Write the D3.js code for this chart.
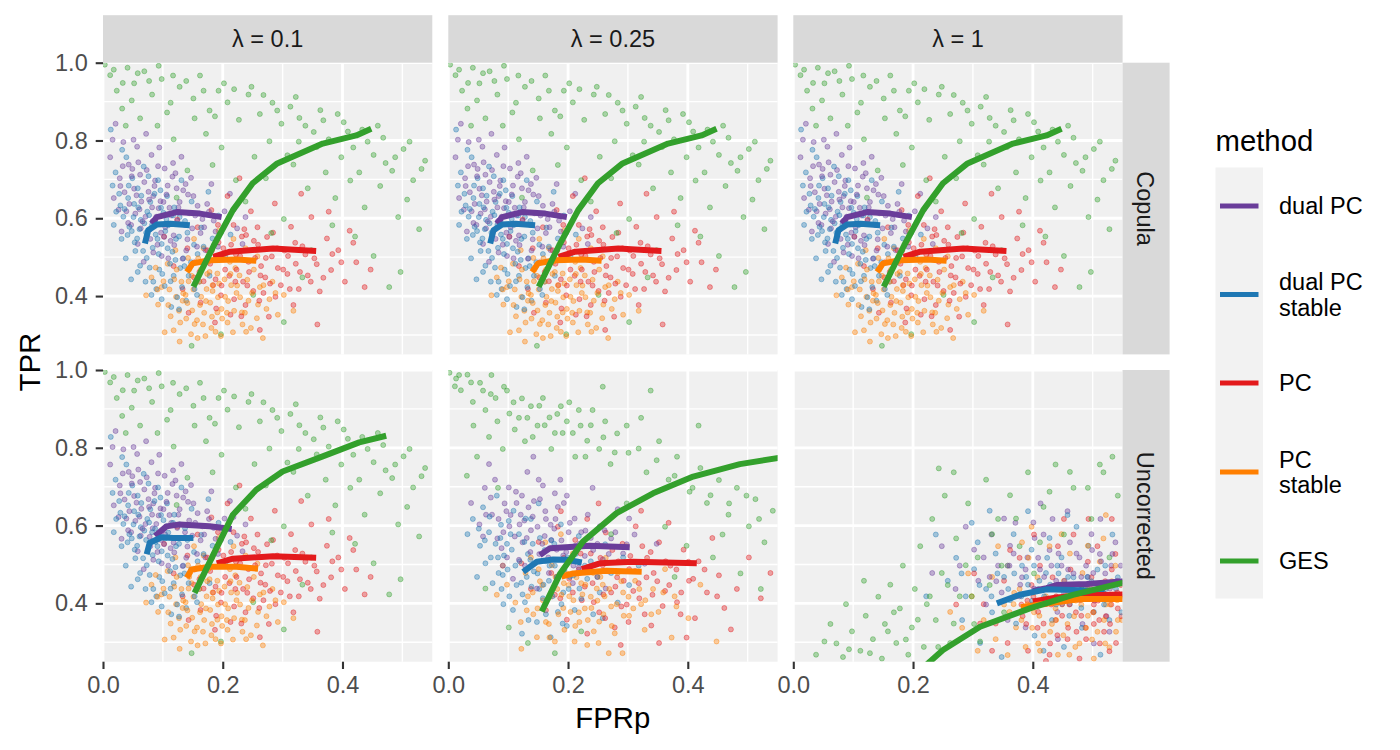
<!DOCTYPE html>
<html>
<head>
<meta charset="utf-8">
<script src="https://cdn.jsdelivr.net/npm/d3@7"></script>
<style>
body { margin: 0; background: #fff; }
text { font-family: "Liberation Sans", Arial, Helvetica, sans-serif; }
</style>
</head>
<body>
<svg id="chart"></svg>
<script>

// methods, in legend order
const methods = ["dual PC", "dual PC stable", "PC", "PC stable", "GES"]
const methodColors = ["#6a3d9a", "#1f78b4", "#e31a1c", "#ff7f00", "#33a02c"]
const colLabels = ["λ = 0.1", "λ = 0.25", "λ = 1"]
const rowLabels = ["Copula", "Uncorrected"]

const xTicks = [0, 0.2, 0.4]
const xMinor = [0.1, 0.3, 0.5]
const yTicks = [0.4, 0.6, 0.8, 1.0]
const yMinor = [0.3, 0.5, 0.7, 0.9]

// ---- point clouds (FPRp, TPR) ----
// cloud A: copula row (all lambdas) and uncorrected lambda = 0.1
const ptsA_dual = [[.021,.843],[.034,.796],[.012,.757],[.043,.738],[.057,.784],[.028,.703],[.052,.676],[.073,.724],[.084,.657],[.018,.652],
[.039,.618],[.064,.643],[.093,.626],[.108,.684],[.047,.583],[.071,.604],[.104,.577],[.126,.628],[.031,.566],[.079,.547],
[.058,.534],[.113,.542],[.137,.583],[.142,.661],[.087,.697],[.121,.716],[.154,.607],[.163,.562],[.098,.503],[.068,.488],
[.133,.496],[.174,.637],[.185,.594],[.192,.527],[.147,.704],[.203,.618],[.224,.574],[.036,.667],[.062,.712],[.083,.593],
[.101,.642],[.054,.612],[.118,.556],[.139,.517],[.091,.532],[.114,.607],[.026,.622],[.076,.668],[.166,.598],[.212,.663],
[.238,.603],[.131,.758],[.094,.782],[.171,.518],[.063,.574],[.082,.628],[.123,.677],[.181,.688],[.049,.727],[.233,.534],
[.044,.637],[.056,.659],[.061,.623],[.077,.648],[.086,.683],[.096,.644],[.106,.661],[.059,.744],[.081,.763],[.103,.728],
[.051,.802],[.072,.817],[.033,.734],[.116,.707],[.128,.642],[.144,.613],[.124,.594],[.097,.563],[.078,.571],[.066,.592],
[.042,.588],[.089,.604],[.111,.627],[.134,.672],[.151,.657],[.158,.632],[.177,.617],[.188,.566],[.169,.577],[.149,.574],
[.141,.546],[.119,.531],[.102,.552],[.084,.512],[.109,.497],[.157,.527],[.197,.563],[.218,.622],[.069,.693],[.048,.708],
[.092,.734],[.117,.742],[.138,.688],[.029,.683],[.016,.802]]
const ptsA_dualS = [[.013,.828],[.032,.776],[.021,.718],[.043,.684],[.052,.637],[.034,.604],[.063,.596],[.041,.557],[.072,.563],[.054,.516],
[.083,.524],[.062,.478],[.094,.468],[.071,.437],[.103,.426],[.124,.397],[.112,.483],[.088,.558],[.101,.614],[.079,.642],
[.058,.677],[.122,.547],[.134,.497],[.143,.452],[.152,.532],[.128,.603],[.107,.657],[.164,.576],[.172,.487],[.183,.548],
[.068,.733],[.092,.698],[.038,.497],[.018,.583],[.047,.443],[.081,.403],[.114,.372],[.139,.388],[.161,.437],[.193,.607],
[.204,.502],[.118,.452],[.098,.534],[.074,.617],[.027,.663],[.049,.703],[.087,.592],[.148,.643],[.176,.668],[.131,.698],
[.057,.548],[.078,.473],[.109,.582],[.036,.624],[.096,.672],[.141,.563],[.119,.628],[.016,.684],[.178,.452],[.213,.558],
[.029,.633],[.044,.578],[.051,.603],[.061,.572],[.069,.587],[.082,.583],[.091,.547],[.104,.567],[.053,.538],[.067,.516],
[.093,.508],[.108,.523],[.058,.462],[.084,.437],[.099,.457],[.121,.493],[.129,.472],[.113,.438],[.132,.423],[.089,.418],
[.042,.652],[.064,.658],[.077,.608],[.097,.627],[.117,.607],[.137,.593],[.147,.487],[.158,.508],[.136,.477],[.116,.514],
[.073,.498],[.048,.567],[.031,.547],[.059,.628],[.086,.663],[.106,.598],[.127,.553],[.153,.418],[.098,.392],[.127,.366],
[.157,.403],[.076,.708],[.039,.757],[.022,.617],[.168,.527]]
const ptsA_pc = [[.102,.553],[.118,.477],[.133,.418],[.141,.523],[.152,.448],[.163,.383],[.158,.577],[.172,.492],[.184,.428],[.181,.621],
[.193,.538],[.204,.468],[.197,.402],[.213,.352],[.222,.507],[.218,.583],[.234,.437],[.243,.488],[.238,.377],[.252,.542],
[.247,.618],[.263,.453],[.272,.498],[.268,.408],[.284,.563],[.277,.347],[.292,.472],[.303,.517],[.297,.428],[.314,.578],
[.322,.483],[.318,.377],[.333,.528],[.342,.453],[.353,.497],[.348,.603],[.362,.412],[.374,.548],[.381,.467],[.393,.518],
[.404,.437],[.412,.568],[.423,.487],[.437,.423],[.358,.327],[.262,.313],[.187,.332],[.143,.357],[.124,.597],[.208,.657],
[.228,.703],[.287,.638],[.331,.663],[.168,.438],[.232,.553],[.258,.577],[.308,.457],[.201,.523],[.153,.487],[.377,.617],
[.161,.462],[.174,.518],[.179,.483],[.188,.443],[.192,.583],[.199,.497],[.211,.452],[.214,.532],[.223,.468],[.219,.392],
[.229,.503],[.236,.572],[.241,.427],[.244,.462],[.254,.498],[.251,.413],[.259,.532],[.264,.477],[.271,.448],[.274,.552],
[.282,.502],[.279,.432],[.291,.523],[.288,.398],[.301,.468],[.309,.503],[.312,.418],[.321,.537],[.329,.462],[.338,.507],
[.347,.437],[.357,.482],[.368,.447],[.383,.508],[.398,.487],[.182,.517],[.198,.427],[.221,.437],[.239,.557],[.261,.388],
[.189,.368],[.231,.348],[.327,.418],[.418,.537],[.447,.468]]
const ptsA_pcS = [[.081,.448],[.092,.378],[.098,.423],[.113,.348],[.108,.483],[.122,.398],[.118,.312],[.131,.437],[.127,.362],[.142,.498],
[.138,.403],[.153,.328],[.148,.452],[.162,.377],[.158,.292],[.173,.418],[.168,.523],[.182,.347],[.178,.462],[.192,.397],
[.188,.308],[.203,.443],[.198,.367],[.212,.488],[.208,.332],[.223,.408],[.218,.547],[.232,.358],[.228,.453],[.243,.388],
[.252,.468],[.247,.318],[.262,.423],[.273,.367],[.283,.437],[.292,.352],[.302,.403],[.103,.307],[.128,.283],[.171,.297],
[.193,.568],[.238,.523],[.152,.547],[.121,.518],[.088,.473],[.143,.438],[.163,.468],[.183,.413],[.201,.497],[.221,.472],
[.111,.417],[.133,.388],[.169,.357],[.214,.428],[.258,.502],[.267,.292],[.318,.362],[.072,.402],[.157,.338],[.191,.458],
[.119,.443],[.134,.407],[.141,.382],[.144,.468],[.151,.417],[.149,.363],[.161,.437],[.164,.398],[.172,.387],[.174,.457],
[.179,.383],[.183,.428],[.191,.358],[.194,.432],[.204,.398],[.199,.342],[.209,.387],[.213,.457],[.219,.362],[.224,.427],
[.229,.397],[.233,.327],[.241,.442],[.237,.357],[.249,.408],[.259,.378],[.268,.428],[.278,.392],[.129,.332],[.147,.302],
[.181,.318],[.197,.297],[.217,.307],[.109,.377],[.101,.438],[.123,.468],[.159,.497],[.176,.488],[.139,.342],[.167,.327],
[.207,.357],[.239,.308],[.257,.343],[.091,.417],[.288,.408]]
const ptsA_ges = [[.003,.995],[.012,.968],[.023,.928],[.041,.987],[.052,.947],[.069,.978],[.082,.918],[.098,.958],[.113,.897],[.128,.938],
[.151,.908],[.162,.967],[.178,.877],[.193,.928],[.208,.898],[.227,.853],[.243,.918],[.262,.868],[.283,.897],[.298,.843],
[.313,.887],[.328,.858],[.352,.822],[.363,.878],[.377,.803],[.402,.847],[.418,.782],[.433,.828],[.452,.763],[.468,.807],
[.483,.722],[.502,.778],[.518,.698],[.538,.748],[.062,.857],[.091,.838],[.118,.803],[.172,.817],[.198,.782],[.253,.758],
[.272,.703],[.318,.738],[.342,.677],[.372,.718],[.388,.652],[.413,.697],[.437,.628],[.463,.683],[.493,.603],[.508,.648],
[.528,.572],[.383,.582],[.421,.553],[.452,.503],[.497,.462],[.348,.518],[.302,.598],[.281,.562],[.238,.643],[.222,.698],
[.183,.737],[.141,.723],[.032,.882],[.251,.403],[.197,.302],[.148,.272],[.302,.333],[.123,.653],[.478,.423],[.333,.448],
[.018,.982],[.033,.948],[.058,.973],[.077,.953],[.093,.992],[.117,.967],[.139,.953],[.168,.928],[.202,.947],[.219,.932],
[.248,.938],[.268,.917],[.291,.877],[.322,.912],[.338,.838],[.368,.852],[.392,.868],[.409,.823],[.442,.797],[.459,.838],
[.488,.757],[.512,.797],[.532,.727],[.472,.742],[.428,.718],[.398,.757],[.357,.783],[.327,.797],[.308,.762],[.278,.798],
[.048,.903],[.107,.872],[.153,.857],[.187,.862],[.038,.838]]

// cloud B: uncorrected, lambda = 0.25
const ptsB_dual = [[.038,.658],[.052,.603],[.061,.697],[.073,.628],[.082,.567],[.078,.718],[.094,.657],[.102,.598],[.098,.518],[.113,.687],
[.121,.628],[.124,.557],[.132,.738],[.128,.497],[.143,.663],[.138,.588],[.152,.527],[.163,.617],[.158,.703],[.172,.563],
[.168,.478],[.183,.648],[.177,.592],[.192,.523],[.203,.607],[.198,.677],[.212,.548],[.222,.583],[.218,.492],[.233,.628],
[.242,.537],[.253,.598],[.258,.513],[.272,.567],[.283,.642],[.292,.528],[.311,.577],[.328,.502],[.108,.463],[.148,.438],
[.089,.542],[.058,.572],[.187,.718],[.241,.697],[.142,.777],[.068,.758],[.208,.452],[.263,.438],[.127,.613],[.181,.538],
[.161,.573],[.228,.522],[.097,.637],[.302,.618],[.348,.553],
[.084,.617],[.092,.583],[.104,.627],[.111,.572],[.114,.658],[.119,.603],[.131,.568],[.134,.647],[.141,.623],[.137,.532],
[.149,.597],[.153,.668],[.157,.553],[.162,.637],[.171,.602],[.167,.518],[.179,.617],[.189,.562],[.193,.658],[.201,.583],
[.197,.532],[.211,.618],[.219,.553],[.229,.587],[.238,.568],[.249,.553],[.261,.588],[.268,.527],[.071,.672],[.063,.628],
[.123,.677],[.101,.698],[.151,.718],[.178,.683],[.209,.497],[.239,.483],[.279,.583],[.298,.552],[.091,.497],[.118,.512]]
const ptsB_dualS = [[.041,.617],[.053,.548],[.062,.503],[.068,.583],[.074,.452],[.083,.518],[.091,.473],[.088,.602],[.102,.418],[.098,.553],
[.112,.497],[.108,.383],[.122,.453],[.118,.578],[.133,.527],[.128,.403],[.143,.482],[.138,.617],[.152,.437],[.148,.352],
[.163,.508],[.158,.413],[.172,.562],[.168,.458],[.183,.378],[.178,.497],[.192,.428],[.188,.603],[.203,.468],[.198,.342],
[.213,.527],[.222,.412],[.218,.573],[.232,.463],[.242,.372],[.238,.508],[.253,.428],[.262,.552],[.272,.478],[.283,.402],
[.292,.518],[.302,.447],[.032,.578],[.058,.647],[.081,.677],[.109,.638],[.048,.468],[.123,.322],[.171,.313],[.141,.553],
[.092,.398],[.211,.383],[.258,.362],[.318,.497],[.151,.657],
[.061,.562],[.071,.518],[.079,.553],[.084,.478],[.093,.523],[.087,.568],[.099,.487],[.104,.578],[.114,.447],[.106,.538],
[.119,.508],[.124,.423],[.131,.468],[.127,.558],[.139,.443],[.137,.512],[.149,.477],[.153,.568],[.159,.448],[.161,.537],
[.169,.497],[.174,.418],[.181,.468],[.177,.553],[.189,.398],[.194,.487],[.201,.437],[.199,.518],[.209,.472],[.219,.438],
[.228,.497],[.249,.468],[.051,.592],[.069,.623],[.101,.612],[.129,.618],[.163,.372],[.134,.357],[.089,.437],[.191,.348]]
const ptsB_pc = [[.122,.503],[.138,.437],[.151,.558],[.163,.382],[.172,.478],[.178,.422],[.183,.597],[.193,.517],[.202,.463],[.198,.358],
[.212,.563],[.218,.487],[.223,.408],[.232,.617],[.241,.452],[.238,.528],[.252,.377],[.258,.498],[.263,.582],[.272,.428],
[.282,.467],[.278,.338],[.291,.553],[.302,.488],[.298,.397],[.313,.598],[.318,.452],[.332,.517],[.328,.372],[.343,.478],
[.352,.557],[.362,.432],[.371,.497],[.382,.403],[.393,.538],[.402,.458],[.412,.362],[.418,.508],[.432,.428],[.441,.568],
[.452,.472],[.461,.388],[.482,.437],[.502,.518],[.522,.413],[.398,.312],[.352,.298],[.288,.293],[.232,.322],[.322,.638],
[.251,.657],[.188,.637],[.368,.607],[.472,.333],[.538,.478],
[.181,.468],[.187,.413],[.203,.507],[.208,.428],[.214,.477],[.221,.528],[.228,.443],[.234,.493],[.243,.403],[.249,.468],
[.254,.517],[.259,.423],[.268,.482],[.274,.537],[.279,.443],[.284,.508],[.289,.392],[.293,.458],[.304,.522],[.309,.432],
[.312,.483],[.319,.413],[.324,.547],[.331,.467],[.341,.422],[.338,.532],[.349,.457],[.358,.393],[.363,.508],[.369,.447],
[.381,.487],[.389,.428],[.401,.507],[.409,.463],[.428,.487],[.262,.362],[.301,.352],[.339,.343],[.388,.372],[.449,.418]]
const ptsB_pcS = [[.098,.448],[.112,.402],[.121,.352],[.129,.478],[.133,.418],[.142,.372],[.148,.313],[.153,.457],[.158,.408],[.168,.347],
[.173,.498],[.182,.437],[.178,.302],[.192,.388],[.198,.477],[.202,.418],[.212,.342],[.208,.528],[.222,.452],[.228,.387],
[.232,.293],[.242,.478],[.238,.417],[.252,.353],[.258,.448],[.263,.517],[.272,.392],[.278,.323],[.283,.478],[.292,.428],
[.302,.368],[.298,.547],[.312,.458],[.322,.398],[.328,.332],[.342,.437],[.351,.378],[.362,.488],[.378,.418],[.401,.362],
[.138,.518],[.162,.557],[.188,.578],[.091,.497],[.122,.283],[.268,.272],[.218,.377],[.248,.438],[.193,.452],[.332,.508],
[.373,.312],[.421,.448],[.081,.422],[.448,.302],[.291,.272],
[.141,.428],[.149,.387],[.157,.447],[.163,.352],[.171,.417],[.179,.468],[.184,.372],[.189,.422],[.194,.332],[.201,.447],
[.204,.378],[.209,.408],[.214,.467],[.219,.352],[.224,.423],[.229,.448],[.233,.357],[.239,.388],[.243,.328],[.249,.407],
[.254,.468],[.259,.372],[.261,.418],[.269,.437],[.273,.342],[.281,.398],[.289,.457],[.293,.368],[.301,.417],[.309,.387],
[.319,.437],[.329,.408],[.339,.372],[.169,.312],[.211,.302],[.251,.298],[.131,.382],[.151,.488],[.359,.428],[.381,.392]]
const ptsB_ges = [[.002,.993],[.013,.978],[.021,.948],[.032,.988],[.041,.918],[.053,.967],[.062,.897],[.071,.938],[.082,.868],[.093,.957],
[.102,.888],[.111,.847],[.123,.927],[.132,.877],[.141,.828],[.152,.908],[.161,.858],[.172,.797],[.182,.887],[.191,.838],
[.202,.917],[.212,.777],[.221,.857],[.232,.818],[.241,.897],[.252,.797],[.262,.868],[.271,.758],[.282,.837],[.301,.787],
[.322,.877],[.331,.737],[.352,.817],[.368,.718],[.382,.777],[.403,.687],[.421,.748],[.432,.658],[.452,.717],[.468,.628],
[.482,.697],[.502,.598],[.513,.668],[.528,.557],[.542,.638],[.048,.777],[.083,.697],[.031,.728],[.362,.597],[.398,.548],
[.442,.518],[.488,.477],[.522,.437],[.298,.657],[.272,.578],[.101,.338],[.133,.298],[.178,.272],[.222,.328],[.062,.438],
[.338,.947],[.258,.957],[.418,.857],[.458,.577],[.378,.468],
[.011,.958],[.018,.987],[.038,.968],[.058,.947],[.072,.987],[.079,.928],[.098,.947],[.109,.917],[.118,.877],[.138,.907],
[.149,.857],[.158,.928],[.169,.878],[.178,.838],[.188,.907],[.198,.868],[.208,.838],[.218,.897],[.229,.777],[.238,.858],
[.259,.827],[.278,.788],[.298,.857],[.318,.798],[.348,.768],[.378,.728],[.408,.697],[.438,.678],[.469,.657],[.498,.677],
[.519,.617],[.091,.797],[.128,.817],[.042,.857],[.068,.828]]

// cloud C: uncorrected, lambda = 1
const ptsC_dual = [[.278,.497],[.302,.538],[.309,.458],[.331,.577],[.342,.497],[.348,.428],[.362,.548],[.371,.607],[.382,.467],[.391,.518],
[.398,.397],[.403,.568],[.412,.487],[.421,.437],[.428,.537],[.433,.617],[.441,.378],[.448,.497],[.453,.458],[.462,.557],
[.471,.418],[.478,.518],[.483,.347],[.492,.468],[.498,.578],[.503,.407],[.512,.527],[.518,.448],[.523,.367],[.531,.497],
[.538,.557],[.543,.418],[.248,.547],[.271,.437],[.322,.397],[.358,.357],[.413,.657],[.458,.637],[.388,.338],[.442,.308],
[.502,.297],[.528,.327],[.352,.618],[.288,.597],[.418,.577],[.468,.477],[.378,.418],[.513,.617],[.232,.478],[.328,.468],
[.379,.448],[.388,.487],[.402,.438],[.409,.517],[.419,.468],[.431,.497],[.439,.458],[.443,.528],[.452,.428],[.459,.487],
[.468,.447],[.473,.528],[.481,.468],[.489,.497],[.494,.418],[.501,.478],[.509,.447],[.514,.508],[.521,.477],[.529,.438],
[.533,.527],[.541,.458],[.361,.497],[.368,.528],[.339,.457],[.318,.518],[.401,.608],[.449,.398],[.499,.537],[.547,.497]]
const ptsC_dualS = [[.258,.458],[.272,.517],[.288,.418],[.302,.488],[.308,.557],[.322,.437],[.332,.377],[.338,.528],[.352,.468],[.362,.408],
[.368,.578],[.372,.348],[.382,.497],[.392,.448],[.398,.538],[.403,.317],[.412,.398],[.422,.478],[.428,.568],[.432,.357],
[.442,.437],[.448,.518],[.452,.288],[.462,.398],[.468,.467],[.473,.597],[.482,.337],[.488,.428],[.493,.548],[.502,.378],
[.508,.487],[.513,.268],[.522,.437],[.528,.357],[.533,.577],[.542,.467],[.238,.577],[.282,.357],[.312,.298],[.348,.262],
[.392,.637],[.328,.638],[.418,.278],[.458,.627],[.222,.418],[.298,.607],[.358,.497],[.441,.497],[.498,.457],[.409,.437],
[.359,.437],[.369,.477],[.381,.418],[.389,.468],[.399,.407],[.402,.497],[.411,.458],[.419,.418],[.424,.517],[.429,.448],
[.439,.397],[.443,.477],[.451,.437],[.459,.468],[.461,.368],[.469,.417],[.479,.447],[.481,.388],[.491,.468],[.499,.418],
[.509,.437],[.519,.397],[.521,.497],[.529,.418],[.539,.437],[.331,.418],[.341,.477],[.311,.447],[.281,.477],[.548,.377]]
const ptsC_pc = [[.318,.398],[.338,.348],[.352,.458],[.358,.298],[.372,.418],[.378,.517],[.383,.367],[.392,.278],[.398,.447],[.412,.497],
[.408,.337],[.422,.398],[.428,.268],[.433,.467],[.442,.547],[.438,.357],[.452,.418],[.458,.308],[.463,.487],[.472,.377],
[.468,.577],[.482,.437],[.478,.258],[.492,.507],[.488,.337],[.502,.397],[.498,.467],[.512,.297],[.508,.547],[.522,.367],
[.518,.427],[.532,.487],[.528,.277],[.542,.387],[.538,.527],[.452,.617],[.402,.577],[.362,.537],[.302,.477],[.332,.278],
[.422,.252],[.473,.327],[.493,.617],[.532,.617],[.391,.407],[.443,.447],[.502,.347],[.547,.447],[.312,.348],[.272,.397],
[.381,.397],[.389,.347],[.401,.417],[.409,.378],[.419,.437],[.418,.348],[.431,.397],[.439,.418],[.441,.318],[.449,.368],
[.448,.447],[.461,.397],[.459,.337],[.469,.428],[.481,.368],[.479,.408],[.491,.447],[.489,.308],[.501,.377],[.499,.428],
[.511,.357],[.509,.407],[.521,.457],[.519,.327],[.531,.397],[.529,.347],[.541,.428],[.539,.298],[.548,.367],[.429,.297]]
const ptsC_pcS = [[.298,.418],[.318,.357],[.332,.468],[.338,.308],[.352,.397],[.358,.497],[.372,.338],[.378,.437],[.388,.288],[.393,.517],
[.402,.377],[.408,.467],[.418,.317],[.422,.418],[.428,.547],[.442,.268],[.438,.387],[.452,.458],[.458,.347],[.462,.528],
[.472,.407],[.478,.297],[.483,.478],[.492,.368],[.498,.437],[.502,.258],[.512,.507],[.508,.327],[.522,.397],[.518,.567],
[.532,.457],[.528,.287],[.542,.357],[.538,.497],[.282,.337],[.308,.278],[.358,.267],[.292,.477],[.342,.547],[.398,.597],
[.448,.578],[.368,.398],[.432,.347],[.468,.428],[.492,.548],[.412,.278],[.548,.417],[.262,.378],[.382,.557],[.522,.627],
[.361,.378],[.369,.427],[.381,.357],[.391,.398],[.399,.337],[.401,.427],[.411,.368],[.419,.397],[.429,.327],[.431,.437],
[.439,.357],[.449,.397],[.451,.318],[.459,.427],[.469,.367],[.471,.288],[.481,.397],[.489,.337],[.491,.438],[.501,.377],
[.499,.307],[.511,.418],[.519,.357],[.521,.297],[.529,.397],[.539,.327],[.541,.408],[.549,.357],[.409,.297],[.461,.268]]
const ptsC_ges = [[.038,.268],[.072,.297],[.083,.262],[.098,.328],[.112,.278],[.121,.368],[.133,.308],[.142,.417],[.148,.258],[.153,.347],
[.162,.448],[.172,.298],[.178,.387],[.183,.497],[.192,.268],[.198,.338],[.203,.437],[.212,.547],[.218,.288],[.223,.398],
[.232,.617],[.238,.357],[.248,.478],[.253,.677],[.262,.298],[.272,.567],[.278,.418],[.292,.657],[.302,.347],[.308,.518],
[.322,.718],[.328,.447],[.342,.617],[.352,.377],[.362,.678],[.378,.547],[.392,.737],[.402,.477],[.418,.648],[.438,.757],
[.452,.577],[.468,.697],[.482,.437],[.498,.617],[.512,.757],[.528,.518],[.542,.677],[.118,.458],[.088,.398],[.062,.347],
[.052,.302],[.093,.282],[.128,.272],[.158,.328],[.168,.377],[.188,.307],[.208,.358],[.228,.418],[.242,.288],[.258,.447],
[.268,.348],[.288,.498],[.298,.418],[.312,.302],[.332,.578],[.348,.497],[.372,.618],[.412,.557],[.428,.687],[.462,.738],
[.492,.697],[.518,.737],[.533,.777],[.268,.737],[.243,.747]]

// ---- method curves ----
// copula row (same for all three lambdas)
const lnCop_dual = [[.081,.586],[.09,.603],[.123,.616],[.162,.612],[.198,.603]]
const lnCop_dualS = [[.07,.535],[.0755,.569],[.09,.584],[.112,.586],[.145,.582]]
const lnCop_pc = [[.184,.501],[.212,.514],[.284,.522],[.356,.516]]
const lnCop_pcS = [[.14,.462],[.15,.484],[.178,.492],[.223,.494],[.256,.491]]
const lnCop_ges = [[.151,.424],[.185,.53],[.217,.621],[.25,.69],[.29,.74],[.367,.792],[.423,.813],[.448,.83]]

// uncorrected, lambda = 0.1
const lnU1_dual = [[.087,.573],[.106,.598],[.128,.603],[.178,.598],[.215,.591]]
const lnU1_dualS = [[.073,.526],[.078,.556],[.098,.57],[.117,.568],[.151,.568]]
const lnU1_pc = [[.19,.503],[.217,.515],[.284,.521],[.356,.517]]
const lnU1_pcS = [[.14,.466],[.148,.487],[.178,.494],[.223,.494],[.259,.489]]
const lnU1_ges = [[.153,.427],[.217,.628],[.256,.692],[.30,.739],[.367,.778],[.428,.814],[.473,.831]]

// uncorrected, lambda = 0.25
const lnU2_dual = [[.153,.524],[.17,.542],[.236,.548],[.303,.544]]
const lnU2_dualS = [[.125,.481],[.148,.507],[.175,.513],[.198,.512],[.223,.505]]
const lnU2_pc = [[.223,.488],[.253,.503],[.309,.507],[.415,.503]]
const lnU2_pcS = [[.189,.469],[.209,.477],[.264,.484],[.323,.481]]
const lnU2_ges = [[.156,.379],[.187,.477],[.225,.559],[.281,.632],[.342,.683],[.409,.726],[.487,.758],[.56,.776]]

// uncorrected, lambda = 1
const lnU3_dual = [[.40,.432],[.423,.439],[.44,.447],[.49,.45],[.548,.456],[.58,.46]]
const lnU3_dualS = [[.34,.40],[.378,.422],[.423,.436],[.479,.434],[.52,.432]]
const lnU3_pc = [[.40,.405],[.44,.415],[.48,.42],[.55,.423],[.58,.423]]
const lnU3_pcS = [[.38,.39],[.412,.397],[.479,.411],[.548,.411],[.58,.411]]
const lnU3_ges = [[.20,.21],[.228,.25],[.25,.28],[.312,.34],[.395,.387],[.467,.422],[.548,.452],[.58,.46]]

const cloudA = [ptsA_dual, ptsA_dualS, ptsA_pc, ptsA_pcS, ptsA_ges]
const cloudB = [ptsB_dual, ptsB_dualS, ptsB_pc, ptsB_pcS, ptsB_ges]
const cloudC = [ptsC_dual, ptsC_dualS, ptsC_pc, ptsC_pcS, ptsC_ges]
const linesCop = [lnCop_dual, lnCop_dualS, lnCop_pc, lnCop_pcS, lnCop_ges]
const linesU1 = [lnU1_dual, lnU1_dualS, lnU1_pc, lnU1_pcS, lnU1_ges]
const linesU2 = [lnU2_dual, lnU2_dualS, lnU2_pc, lnU2_pcS, lnU2_ges]
const linesU3 = [lnU3_dual, lnU3_dualS, lnU3_pc, lnU3_pcS, lnU3_ges]

const panels = [
	{row: 0, col: 0, cloud: cloudA, lines: linesCop},
	{row: 0, col: 1, cloud: cloudA, lines: linesCop},
	{row: 0, col: 2, cloud: cloudA, lines: linesCop},
	{row: 1, col: 0, cloud: cloudA, lines: linesU1},
	{row: 1, col: 1, cloud: cloudB, lines: linesU2},
	{row: 1, col: 2, cloud: cloudC, lines: linesU3}
]

// ---- layout ----
const width = 1400
const height = 750
const panelW = 329.3
const panelH = 291.7
const colX = [103, 448.3, 793.3]
const rowY = [62.7, 370]
const stripSize = 47.5

const svg = d3.select("#chart")
	.attr("width", width)
	.attr("height", height)

const x = d3.scaleLinear().domain([0, 0.55]).range([0, panelW])
const y = d3.scaleLinear().domain([0.25, 1]).range([panelH, 0])

const line = d3.line()
	.x(d => x(d[0]))
	.y(d => y(d[1]))

panels.forEach((p, i) => {
	const g = svg.append("g")
		.attr("transform", `translate(${colX[p.col]},${rowY[p.row]})`)

	g.append("clipPath").attr("id", "clip" + i)
		.append("rect").attr("width", panelW).attr("height", panelH)

	g.append("rect")
		.attr("width", panelW)
		.attr("height", panelH)
		.attr("fill", "#f0f0f0")

	// grid
	g.selectAll(".gxm").data(xMinor).enter().append("line")
		.attr("x1", d => x(d)).attr("x2", d => x(d))
		.attr("y1", 0).attr("y2", panelH)
		.attr("stroke", "#fff").attr("stroke-width", 1.4)
	g.selectAll(".gym").data(yMinor).enter().append("line")
		.attr("y1", d => y(d)).attr("y2", d => y(d))
		.attr("x1", 0).attr("x2", panelW)
		.attr("stroke", "#fff").attr("stroke-width", 1.4)
	g.selectAll(".gx").data(xTicks).enter().append("line")
		.attr("x1", d => x(d)).attr("x2", d => x(d))
		.attr("y1", 0).attr("y2", panelH)
		.attr("stroke", "#fff").attr("stroke-width", 2.8)
	g.selectAll(".gy").data(yTicks).enter().append("line")
		.attr("y1", d => y(d)).attr("y2", d => y(d))
		.attr("x1", 0).attr("x2", panelW)
		.attr("stroke", "#fff").attr("stroke-width", 2.8)

	const body = g.append("g").attr("clip-path", `url(#clip${i})`)

	// points, interleaved so colours mix like the original
	let pts = []
	let n = d3.max(p.cloud, c => c.length)
	for (let k = 0; k < n; k++) {
		for (let m = 0; m < methods.length; m++) {
			if (k < p.cloud[m].length) pts.push({m: m, v: p.cloud[m][k]})
		}
	}
	body.selectAll("circle").data(pts).enter().append("circle")
		.attr("cx", d => x(d.v[0]))
		.attr("cy", d => y(d.v[1]))
		.attr("r", 2.5)
		.attr("fill", d => methodColors[d.m])
		.attr("fill-opacity", 0.38)
		.attr("stroke", d => methodColors[d.m])
		.attr("stroke-opacity", 0.4)
		.attr("stroke-width", 1)

	body.selectAll("path.curve").data(p.lines).enter().append("path")
		.attr("class", "curve")
		.attr("d", d => line(d))
		.attr("fill", "none")
		.attr("stroke", (d, m) => methodColors[m])
		.attr("stroke-width", 6)
		.attr("stroke-linejoin", "round")

	// axes on the outer panels
	if (p.col == 0) {
		const ax = g.append("g")
			.call(d3.axisLeft(y).tickValues(yTicks).tickFormat(d3.format(".1f")).tickSize(7.3).tickPadding(8))
		styleAxis(ax)
	}
	if (p.row == 1) {
		const ax = g.append("g")
			.attr("transform", `translate(0,${panelH})`)
			.call(d3.axisBottom(x).tickValues(xTicks).tickFormat(d3.format(".1f")).tickSize(7.3).tickPadding(7.5))
		styleAxis(ax)
	}
})

function styleAxis(ax) {
	ax.select(".domain").remove()
	ax.selectAll(".tick line").attr("stroke", "#333333").attr("stroke-width", 2.1)
	ax.selectAll(".tick text")
		.attr("fill", "#4d4d4d")
		.style("font-size", "23.5px")
		.style("font-family", '"Liberation Sans", Arial, Helvetica, sans-serif')
}

// strips
colLabels.forEach((lab, c) => {
	svg.append("rect")
		.attr("x", colX[c]).attr("y", rowY[0] - stripSize)
		.attr("width", panelW).attr("height", stripSize)
		.attr("fill", "#d9d9d9")
	svg.append("text")
		.attr("x", colX[c] + panelW / 2)
		.attr("y", rowY[0] - stripSize / 2)
		.attr("dy", "0.36em")
		.attr("text-anchor", "middle")
		.attr("fill", "#1a1a1a")
		.style("font-size", "23.5px")
		.text(lab)
})

rowLabels.forEach((lab, r) => {
	const sx = colX[2] + panelW
	svg.append("rect")
		.attr("x", sx).attr("y", rowY[r])
		.attr("width", stripSize - 0.5).attr("height", panelH)
		.attr("fill", "#d9d9d9")
	svg.append("text")
		.attr("transform", `translate(${sx + stripSize / 2 - 0.5},${rowY[r] + panelH / 2}) rotate(90)`)
		.attr("dy", "0.36em")
		.attr("text-anchor", "middle")
		.attr("fill", "#1a1a1a")
		.style("font-size", "23.5px")
		.text(lab)
})

// axis titles
svg.append("text")
	.attr("x", (colX[0] + colX[2] + panelW) / 2)
	.attr("y", 728)
	.attr("text-anchor", "middle")
	.style("font-size", "29.3px")
	.text("FPRp")

svg.append("text")
	.attr("transform", `translate(40,${(rowY[0] + rowY[1] + panelH) / 2}) rotate(-90)`)
	.attr("text-anchor", "middle")
	.style("font-size", "29.3px")
	.text("TPR")

// legend
const legX = 1215.5
const keyY = [206, 294.5, 383, 472, 561]
const legLabels = [["dual PC"], ["dual PC", "stable"], ["PC"], ["PC", "stable"], ["GES"]]

svg.append("text")
	.attr("x", legX)
	.attr("y", 151)
	.style("font-size", "29.3px")
	.text("method")

svg.append("rect")
	.attr("x", legX).attr("y", 167.5)
	.attr("width", 47.5).attr("height", 431)
	.attr("fill", "#f2f2f2")

methods.forEach((m, i) => {
	svg.append("line")
		.attr("x1", legX + 4.5).attr("x2", legX + 43)
		.attr("y1", keyY[i]).attr("y2", keyY[i])
		.attr("stroke", methodColors[i])
		.attr("stroke-width", 5)
	const ls = legLabels[i]
	ls.forEach((t, j) => {
		svg.append("text")
			.attr("x", 1279)
			.attr("y", keyY[i] + (j - (ls.length - 1) / 2) * 25.7)
			.attr("dy", "0.36em")
			.style("font-size", "23.5px")
			.text(t)
	})
})

</script>
</body>
</html>
